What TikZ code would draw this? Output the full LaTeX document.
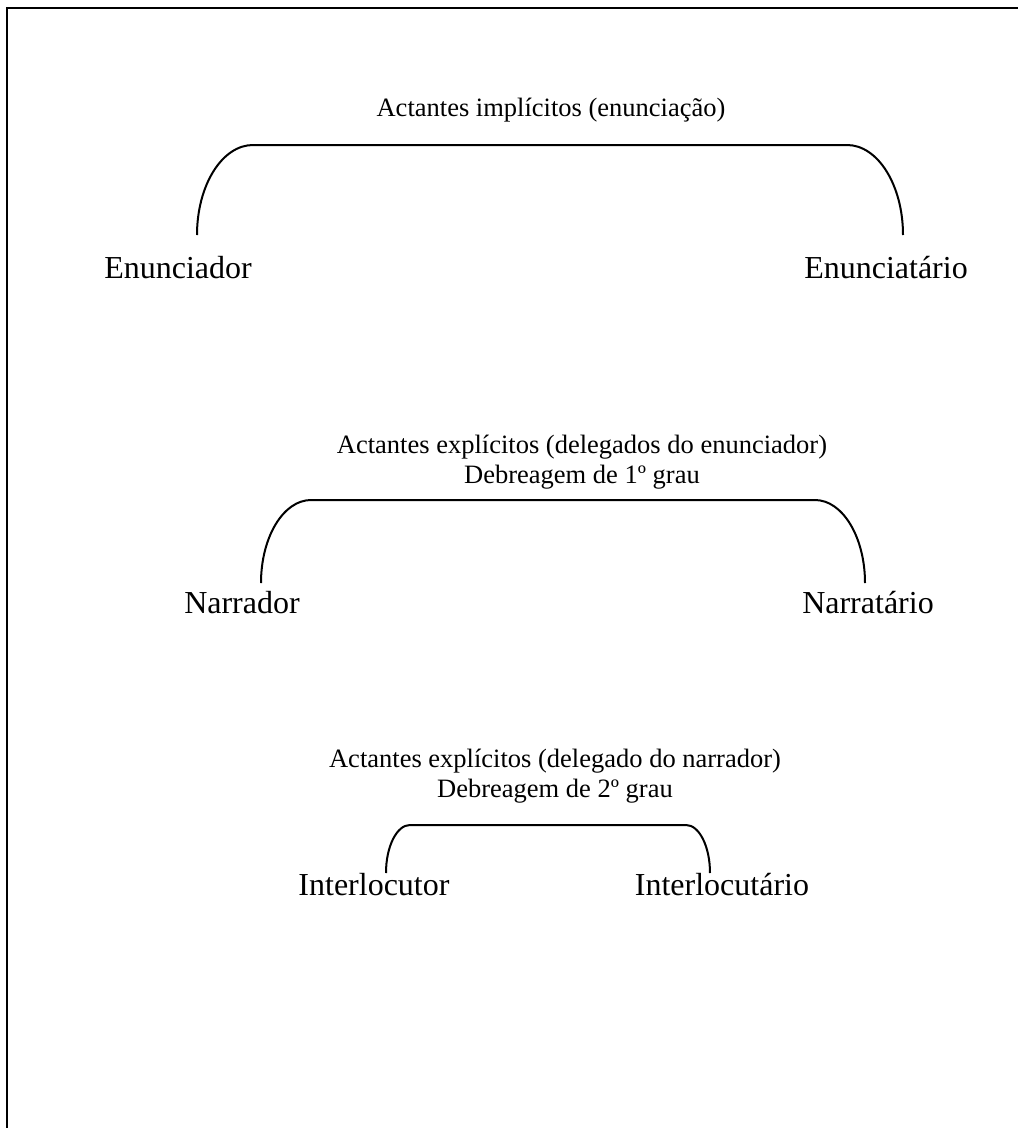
\documentclass[tikz,border=0pt]{standalone}
\usepackage{fontspec}
\setmainfont{Liberation Serif}
\begin{document}
\begin{tikzpicture}[x=1pt,y=-1pt,
  big/.style={inner sep=0pt,font=\fontsize{32}{38}\selectfont},
  small/.style={inner sep=0pt,align=center,font=\fontsize{26.5}{30}\selectfont},
  brace/.style={line width=2pt}]
\useasboundingbox (0,0) rectangle (1018,1128);
\draw[line width=2.5pt] (1018,8) -- (7,8) -- (7,1128);

% level 1
\node[small] (t1) at (551,110) {Actantes implícitos (enunciação)};
\node[big] (a1) at (178,268) {Enunciador};
\node[big] (b1) at (886,268) {Enunciatário};
\coordinate (l1) at (197,235);
\coordinate (r1) at (903,235);
\draw[brace] (l1) arc[start angle=180,end angle=270,x radius=56,y radius=90]
  -- ++(594,0) arc[start angle=270,end angle=360,x radius=56,y radius=90];

% level 2
\node[small] (t2) at (582,462) {Actantes explícitos (delegados do enunciador)\\Debreagem de 1º grau};
\node[big] (a2) at (242,603) {Narrador};
\node[big] (b2) at (868,603) {Narratário};
\coordinate (l2) at (261,583);
\coordinate (r2) at (865,583);
\draw[brace] (l2) arc[start angle=180,end angle=270,x radius=50,y radius=83]
  -- ++(504,0) arc[start angle=270,end angle=360,x radius=50,y radius=83];

% level 3
\node[small] (t3) at (555,776) {Actantes explícitos (delegado do narrador)\\Debreagem de 2º grau};
\node[big] (a3) at (374,885) {Interlocutor};
\node[big] (b3) at (722,885) {Interlocutário};
\coordinate (l3) at (386,873);
\coordinate (r3) at (710,873);
\draw[brace] (l3) arc[start angle=180,end angle=270,x radius=24,y radius=48]
  -- ++(276,0) arc[start angle=270,end angle=360,x radius=24,y radius=48];
\end{tikzpicture}
\end{document}
